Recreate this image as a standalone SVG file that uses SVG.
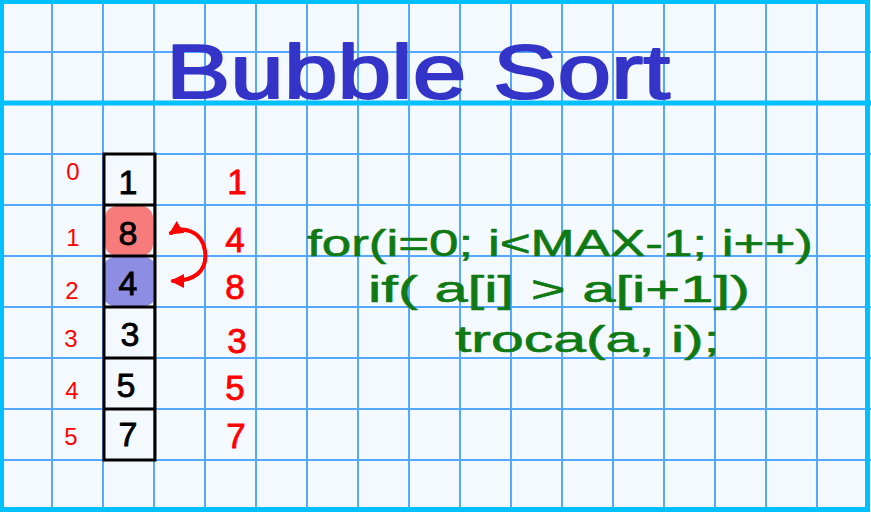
<svg xmlns="http://www.w3.org/2000/svg" width="871" height="512" viewBox="0 0 871 512">
<defs>
<style>
.grid{stroke:#55a8ff;stroke-width:2;fill:none}
.border{stroke:#00c0ff;fill:none}
.title{font-family:"Liberation Sans",Arial,sans-serif;font-size:76px;fill:#3434c8;stroke:#3434c8;stroke-width:2;stroke-linejoin:round}
.code{font-family:"Liberation Sans",Arial,sans-serif;font-size:36px;fill:#0f7a14;stroke:#0f7a14;stroke-width:0.6;stroke-linejoin:round}
.cell{fill:none;stroke:#000;stroke-width:3}
.num{font-family:"Liberation Sans",Arial,sans-serif;font-size:34px;fill:#000;stroke:#000;stroke-width:0.8;text-anchor:middle}
.idx{font-family:"Liberation Sans",Arial,sans-serif;font-size:24px;fill:#f00;text-anchor:middle}
.res{font-family:"Liberation Sans",Arial,sans-serif;font-size:35px;fill:#f00;stroke:#f00;stroke-width:0.8;text-anchor:middle}
.arrow{fill:none;stroke:#f00;stroke-width:4;stroke-linecap:round}
</style>
<marker id="ah" viewBox="0 0 10 10" refX="8" refY="5" markerWidth="3.5" markerHeight="3.5" orient="auto-start-reverse">
<path d="M0 0 L10 5 L0 10 Z" fill="#f00"/>
</marker>
</defs>
<rect x="0" y="0" width="871" height="512" fill="#f4f9fd"/>
<g id="grid">
<path class="grid" d="M52 0V512M103 0V512M154 0V512M205 0V512M256 0V512M307 0V512M358 0V512M409 0V512M460 0V512M511 0V512M562 0V512M613 0V512M664 0V512M715 0V512M766 0V512M817 0V512"/>
<path class="grid" d="M0 52H871M0 154H871M0 205H871M0 256H871M0 307H871M0 358H871M0 409H871M0 460H871"/>
<path class="border" stroke-width="5" d="M0 103H871"/>
<rect class="border" stroke-width="5" x="1.5" y="1.5" width="866" height="508"/>
</g>
<g id="title"><text class="title" x="166" y="98" textLength="504" lengthAdjust="spacingAndGlyphs">Bubble Sort</text></g>
<g id="array">
<rect x="105" y="206" width="48" height="50" rx="12" fill="#f87b7b"/>
<rect x="103" y="257" width="53" height="49" rx="12" fill="#8d8de3"/>
<rect class="cell" x="104" y="154" width="51" height="306"/>
<path class="cell" d="M104 205H155M104 256H155M104 307H155M104 358H155M104 409H155"/>
<text class="num" x="128" y="194">1</text>
<text class="num" x="128" y="245">8</text>
<text class="num" x="128" y="295">4</text>
<text class="num" x="130" y="346">3</text>
<text class="num" x="126" y="397">5</text>
<text class="num" x="128" y="446">7</text>
</g>
<g id="indices">
<text class="idx" x="73" y="180">0</text>
<text class="idx" x="73" y="246">1</text>
<text class="idx" x="72" y="299">2</text>
<text class="idx" x="71" y="347">3</text>
<text class="idx" x="72" y="399">4</text>
<text class="idx" x="71" y="445">5</text>
</g>
<g id="result">
<text class="res" x="237" y="194">1</text>
<text class="res" x="235" y="252">4</text>
<text class="res" x="235" y="299">8</text>
<text class="res" x="237" y="353">3</text>
<text class="res" x="235" y="400">5</text>
<text class="res" x="236" y="448">7</text>
</g>
<g id="connectors">
<path class="arrow" marker-start="url(#ah)" marker-end="url(#ah)" d="M171 233 C182 226 202 230 205 251 C208 272 193 281 173 281"/>
</g>
<g id="code">
<text class="code" x="307" y="256" textLength="506" lengthAdjust="spacingAndGlyphs">for(i=0; i&lt;MAX-1; i++)</text>
<text class="code" x="368" y="302" textLength="382" lengthAdjust="spacingAndGlyphs">if( a[i] &gt; a[i+1])</text>
<text class="code" x="455" y="352" textLength="265" lengthAdjust="spacingAndGlyphs">troca(a, i);</text>
</g>
</svg>
